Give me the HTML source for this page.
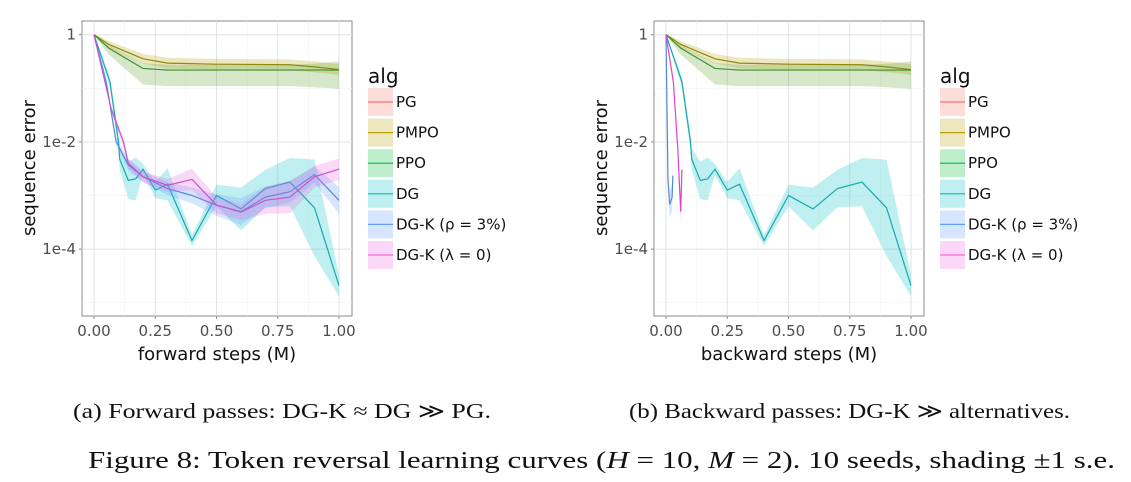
<!DOCTYPE html>
<html><head><meta charset="utf-8"><style>
body{margin:0;background:#fff}
svg{display:block;font-family:"DejaVu Sans","Liberation Sans",sans-serif}
.cap{font-family:"Liberation Serif",serif;fill:#111}
</style></head><body>
<svg id="fig" width="1131" height="482" viewBox="0 0 1131 482" xmlns="http://www.w3.org/2000/svg">
<g id="pa"></g>
<g id="pb"></g>
<text class="cap" x="73" y="418" font-size="21" textLength="418" lengthAdjust="spacingAndGlyphs">(a) Forward passes: DG-K ≈ DG ≫ PG.</text>
<text class="cap" x="629" y="418" font-size="21" textLength="441" lengthAdjust="spacingAndGlyphs">(b) Backward passes: DG-K ≫ alternatives.</text>
<text class="cap" x="88" y="468" font-size="24" textLength="1027" lengthAdjust="spacingAndGlyphs">Figure 8: Token reversal learning curves (<tspan font-style="italic">H</tspan> = 10, <tspan font-style="italic">M</tspan> = 2). 10 seeds, shading ±1 s.e.</text>
</svg>
<script>
// data (log10 of sequence error)
const xTicks=[0,0.25,0.5,0.75,1];
const xTickLabels=["0.00","0.25","0.50","0.75","1.00"];
const yTicks=[0,-2,-4];
const yTickLabels=["1","1e-2","1e-4"];
const pmpoX=[0,0.06,0.2,0.3,0.5,0.8,0.9,1];
const pmpoY=[0,-0.18,-0.45,-0.53,-0.55,-0.56,-0.6,-0.65];
const pmpoBand=[0.02,0.06,0.09,0.1,0.1,0.1,0.1,0.1];
const ppoX=[0,0.06,0.2,0.3,0.5,0.8,0.9,1];
const ppoY=[0,-0.25,-0.63,-0.66,-0.66,-0.66,-0.66,-0.66];
const ppoLo=[0,0.12,0.3,0.3,0.3,0.3,0.32,0.35];
const ppoHi=[0,0.05,0.1,0.1,0.1,0.1,0.12,0.16];
const dgX=[0,0.065,0.1,0.105,0.14,0.17,0.2,0.25,0.3,0.4,0.5,0.6,0.7,0.8,0.9,1];
const dgY=[0,-0.88,-2.0,-2.32,-2.72,-2.69,-2.51,-2.9,-2.79,-3.84,-3.0,-3.25,-2.87,-2.75,-3.23,-4.68];
const dgBand=[0,0.1,0.15,0.2,0.35,0.4,0.1,0.15,0.3,0.1,0.2,0.4,0.35,0.45,0.9,0.2];
const rhoFX=[0,0.05,0.09,0.14,0.2,0.3,0.4,0.5,0.6,0.7,0.8,0.9,1];
const rhoFY=[0,-0.88,-1.99,-2.43,-2.65,-2.87,-3.0,-3.18,-3.3,-3.03,-2.93,-2.61,-3.09];
const rhoFBand=[0,0.05,0.08,0.1,0.1,0.12,0.15,0.2,0.25,0.2,0.2,0.15,0.25];
const lamFX=[0,0.07,0.12,0.14,0.2,0.3,0.4,0.5,0.6,0.7,0.8,0.9,1];
const lamFY=[0,-1.38,-2.0,-2.4,-2.65,-2.81,-2.7,-3.18,-3.31,-3.09,-3.03,-2.65,-2.51];
const lamFBand=[0,0.05,0.08,0.1,0.1,0.12,0.2,0.15,0.15,0.25,0.3,0.2,0.2];
const rhoBX=[0,0.008,0.015,0.025,0.028];
const rhoBY=[0,-2.7,-3.17,-3.03,-2.63];
const rhoBBand=[0,0.2,0.25,0.25,0.2];
const lamBX=[0,0.03,0.048,0.06,0.065];
const lamBY=[0,-0.88,-2.12,-3.3,-2.52];
const lamBBand=[0,0.05,0.1,0.2,0.2];

const NS='http://www.w3.org/2000/svg';
function mk(p,t,a){const e=document.createElementNS(NS,t);for(const k in a)e.setAttribute(k,a[k]);p.appendChild(e);return e;}
const yS=v=>34.7-v*53.6;
function panel(g,x0,x1,title,series){
  const xS=v=>x0+(x1-x0)*v;
  const L=x0-12,R=x1+13;
  const bg=mk(g,'rect',{x:L,y:21,width:R-L,height:295,fill:'#fff',stroke:'#888','stroke-width':1});
  
  
  [-1,-3,-5].forEach(v=>mk(g,'line',{x1:L,x2:R,y1:yS(v),y2:yS(v),stroke:'#f2f2f2','stroke-width':0.6}));
  [0.125,0.375,0.625,0.875].forEach(v=>mk(g,'line',{x1:xS(v),x2:xS(v),y1:21,y2:316,stroke:'#f2f2f2','stroke-width':0.6}));
  yTicks.forEach((v,i)=>{mk(g,'line',{x1:L,x2:R,y1:yS(v),y2:yS(v),stroke:'#e3e3e3','stroke-width':1});
    const t=mk(g,'text',{x:L-6,y:yS(v)+5,'text-anchor':'end','font-size':15,fill:'#4d4d4d'});t.textContent=yTickLabels[i];
    
    
    mk(g,'line',{x1:L-3,x2:L,y1:yS(v),y2:yS(v),stroke:'#888'});});
  xTicks.forEach((v,i)=>{mk(g,'line',{x1:xS(v),x2:xS(v),y1:21,y2:316,stroke:'#e3e3e3','stroke-width':1});
    const t=mk(g,'text',{x:xS(v),y:336,'text-anchor':'middle','font-size':15,fill:'#4d4d4d'});t.textContent=xTickLabels[i];
    
    
    mk(g,'line',{x1:xS(v),x2:xS(v),y1:316,y2:319,stroke:'#888'});});
  const xt=mk(g,'text',{x:(L+R)/2,y:360,'text-anchor':'middle','font-size':18,fill:'#111'});xt.textContent=title;
  
  
  const yt=mk(g,'text',{x:0,y:0,transform:`translate(${L-47},168) rotate(-90)`,'text-anchor':'middle','font-size':18,fill:'#111'});yt.textContent='sequence error';
  
  
  series.forEach(s=>{
    let up=s.x.map((x,i)=>xS(x)+','+yS(s.y[i]+s.hi[i])).join(' ');
    let lo=s.x.map((x,i)=>xS(x)+','+yS(s.y[i]-s.lo[i])).reverse().join(' ');
    const b=mk(g,'polygon',{points:up+' '+lo,fill:s.c,'fill-opacity':0.25});
    
    
    const l=mk(g,'polyline',{points:s.x.map((x,i)=>xS(x)+','+yS(s.y[i])).join(' '),fill:'none',stroke:s.lc||s.c,'stroke-width':1.2});
    
    
  });
  const lx=R+16;
  const a=mk(g,'text',{x:lx,y:83,'font-size':20,fill:'#111'});a.textContent='alg';
  
  
  const leg=[['PG','#f8766d'],['PMPO','#b79f00'],['PPO','#00ba38'],['DG','#00bfc4'],['DG-K (ρ = 3%)','#619cff'],['DG-K (λ = 0)','#f564e3']];
  leg.forEach((e,i)=>{const y=102+i*30.6;
    const r=mk(g,'rect',{x:lx,y:y-14,width:25,height:28,fill:e[1],'fill-opacity':0.25});
    
    
    mk(g,'line',{x1:lx,x2:lx+25,y1:y,y2:y,stroke:e[1],'stroke-width':1.2});
    const t=mk(g,'text',{x:lx+28,y:y+5,'font-size':15,fill:'#111'});t.textContent=e[0];
    
    });
}
const pm={n:'pmpo',x:pmpoX,y:pmpoY,hi:pmpoBand,lo:pmpoBand,c:'#b79f00',lc:'#8a8a10'};
const pp={n:'ppo',x:ppoX,y:ppoY,hi:ppoHi,lo:ppoLo,c:'#5aa02c',lc:'#3f8f2a'};
const dg={n:'dg',x:dgX,y:dgY,hi:dgBand,lo:dgBand,c:'#00bfc4',lc:'#14a9b0'};
panel(document.getElementById('pa'),94,339,'forward steps (M)',[pm,pp,dg,
 {n:'dgk-rho',x:rhoFX,y:rhoFY,hi:rhoFBand,lo:rhoFBand,c:'#619cff',lc:'#5588dd'},
 {n:'dgk-lambda',x:lamFX,y:lamFY,hi:lamFBand,lo:lamFBand,c:'#f564e3',lc:'#c855c8'}]);
panel(document.getElementById('pb'),666,911,'backward steps (M)',[pm,pp,dg,
 {n:'dgk-rho',x:rhoBX,y:rhoBY,hi:rhoBBand,lo:rhoBBand,c:'#619cff',lc:'#5588dd'},
 {n:'dgk-lambda',x:lamBX,y:lamBY,hi:lamBBand,lo:lamBBand,c:'#f564e3',lc:'#e040d0'}]);
</script>
</body></html>
